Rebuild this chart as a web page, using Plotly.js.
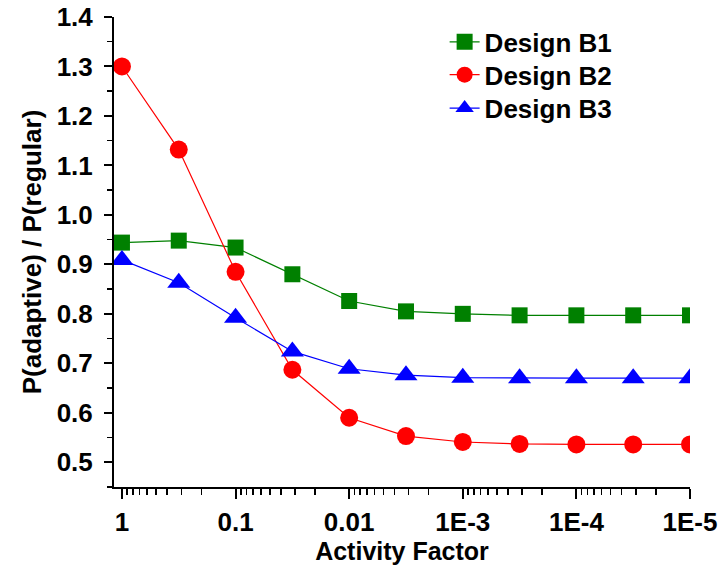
<!DOCTYPE html>
<html>
<head>
<meta charset="utf-8">
<script src="https://cdn.plot.ly/plotly-3.0.1.min.js"></script>
<style>html,body{margin:0;padding:0;background:#fff;}#chart{width:722px;height:569px;}</style>
</head>
<body>
<div id="chart"></div>
<script>
var activityFactor = [1, 0.3162, 0.1, 0.03162, 0.01, 0.003162, 0.001, 0.0003162, 0.0001, 0.00003162, 0.00001];
var designB1 = [0.944, 0.948, 0.934, 0.880, 0.826, 0.805, 0.800, 0.797, 0.797, 0.797, 0.797];
var designB2 = [1.300, 1.132, 0.885, 0.687, 0.590, 0.553, 0.541, 0.537, 0.536, 0.536, 0.536];
var designB3 = [0.909, 0.863, 0.792, 0.724, 0.689, 0.676, 0.671, 0.670, 0.670, 0.670, 0.670];
var xTickVals = [1, 0.1, 0.01, 0.001, 0.0001, 0.00001];
var xTickText = ["1", "0.1", "0.01", "1E-3", "1E-4", "1E-5"];
var seriesNames = ["Design B1", "Design B2", "Design B3"];

var fontFam = "Liberation Sans, Arial, sans-serif";
var traces = [
  {x: activityFactor, y: designB1, name: seriesNames[0], mode: "lines+markers", legend: "legend",
   line: {color: "#008000", width: 1.2}, marker: {symbol: "square", size: 16, color: "#008000"}},
  {x: activityFactor, y: designB2, name: seriesNames[1], mode: "lines+markers", legend: "legend2",
   line: {color: "#ff0000", width: 1.2}, marker: {symbol: "circle", size: 18, color: "#ff0000"}},
  {x: activityFactor, y: designB3, name: seriesNames[2], mode: "lines+markers", legend: "legend3",
   line: {color: "#0000ff", width: 1.2}, marker: {symbol: "triangle-up", size: 20, color: "#0000ff"}}
];

function legendAt(yPaper) {
  return {x: 0.574, y: yPaper, xanchor: "left", yanchor: "middle", bgcolor: "rgba(0,0,0,0)",
          font: {family: fontFam, size: 26, weight: "bold", color: "#000"}};
}

var layout = {
  width: 722, height: 569,
  margin: {l: 114, r: 32, t: 17, b: 82},
  paper_bgcolor: "#fff", plot_bgcolor: "#fff",
  font: {family: fontFam, color: "#000", size: 25, weight: "bold"},
  showlegend: true,
  legend: legendAt(0.947),
  legend2: legendAt(0.877),
  legend3: legendAt(0.806),
  xaxis: {
    type: "log", autorange: false, range: [0.07, -5],
    tickmode: "array", tickvals: xTickVals, ticktext: xTickText,
    ticks: "outside", ticklen: 10, tickwidth: 2, tickcolor: "#000",
    showline: true, linewidth: 2, linecolor: "#000", mirror: false,
    showgrid: false, zeroline: false,
    tickfont: {family: fontFam, size: 26, weight: "bold"},
    ticklabelstandoff: 1,
    minor: {ticks: "outside", ticklen: 6, tickwidth: 1.5, tickcolor: "#000", dtick: "D1", showgrid: false},
    title: {text: "Activity Factor", font: {family: fontFam, size: 25, weight: "bold"}, standoff: 0}
  },
  yaxis: {
    autorange: false, range: [0.45, 1.4],
    tick0: 0.5, dtick: 0.1, tickformat: ".1f",
    ticks: "outside", ticklen: 8, tickwidth: 2, tickcolor: "#000",
    showline: true, linewidth: 2, linecolor: "#000", mirror: false,
    showgrid: false, zeroline: false,
    tickfont: {family: fontFam, size: 26, weight: "bold"},
    ticklabelstandoff: 6,
    minor: {ticks: "outside", ticklen: 5, tickwidth: 1.5, tickcolor: "#000", dtick: 0.05, showgrid: false},
    title: {text: "P(adaptive) / P(regular)", font: {family: fontFam, size: 26, weight: "bold"}, standoff: 8}
  }
};

Plotly.newPlot("chart", traces, layout, {displayModeBar: false, staticPlot: true});
</script>
</body>
</html>
